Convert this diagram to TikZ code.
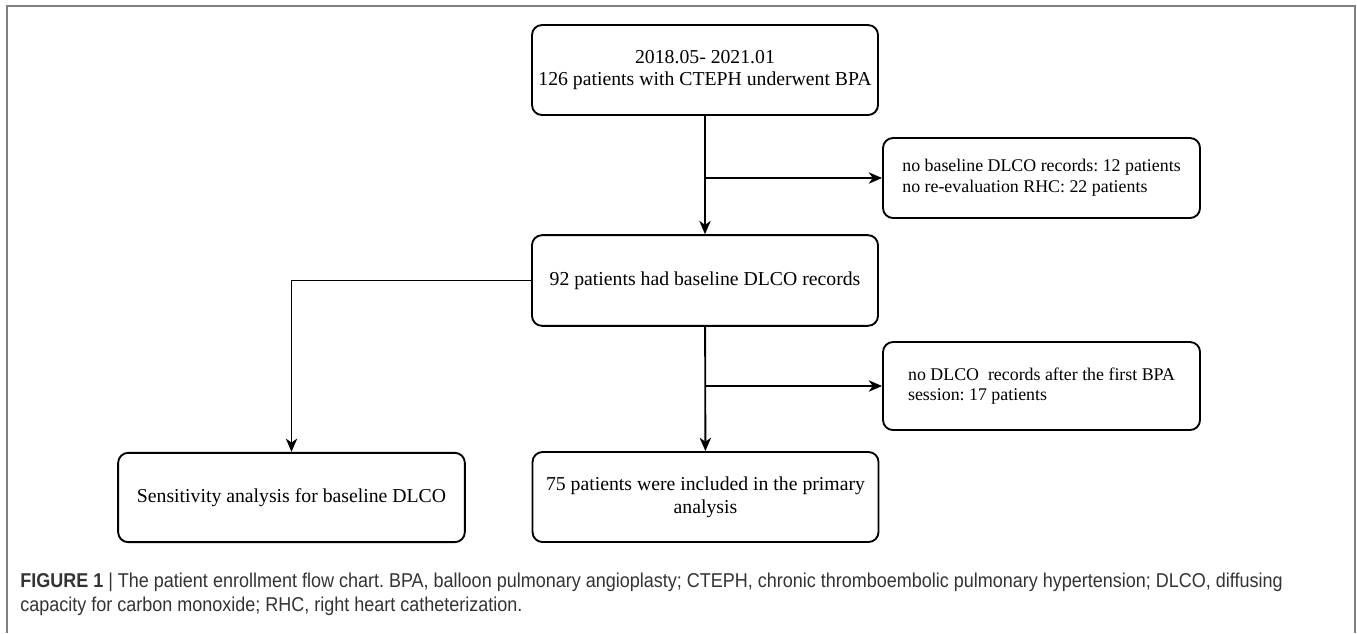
\documentclass[tikz,border=0pt]{standalone}
\usepackage{fontspec}
\setmainfont{Liberation Serif}
\newfontfamily\capfont[FakeStretch=0.9]{Liberation Sans}
\usepackage{xcolor}
\usetikzlibrary{arrows.meta,positioning}
\definecolor{capgray}{HTML}{333333}
\frenchspacing

\begin{document}
\begin{tikzpicture}[x=0.75pt,y=-0.75pt,
  n/.style={draw,rounded corners=7.5pt,line width=1.4pt,align=center,
            font=\fontsize{14.8}{17.2}\selectfont,minimum width=259.5pt,
            minimum height=67.5pt,inner sep=0pt},
  ex/.style={draw,rounded corners=7.5pt,line width=1.4pt,align=left,
            font=\fontsize{13.4}{15.5}\selectfont,minimum width=237.75pt,
            minimum height=62pt,inner sep=0pt},
  arr/.style={-{Stealth[length=10pt,width=8.5pt,inset=3pt]},line width=1.4pt}]
\useasboundingbox (0,0) rectangle (1357,633);
% outer frame, open at the bottom
\draw[gray,line width=1.4pt] (7,633) -- (7,6) -- (1355,6) -- (1355,633);
\node[n] (start) at (705,70) {2018.05- 2021.01\\126 patients with CTEPH underwent BPA};
\node[ex,minimum height=60pt] (excl1) at (1041.5,178) {no baseline DLCO records: 12 patients\\
  no re-evaluation RHC: 22 patients};
\node[n,minimum height=68pt] (base) at (705,280.5) {92 patients had baseline DLCO records};
\node[ex,minimum height=66pt] (excl2) at (1041.5,386) {no DLCO\ \ records after the first BPA\\
  session: 17 patients};
\node[n,minimum width=260pt,minimum height=67pt] (sens) at (291.5,497.5) {Sensitivity analysis for baseline DLCO};
\node[n] (prim) at (705.5,497) {75 patients were included in the primary\\analysis};
\draw[arr] (start) -- (base);
\draw[arr] (start.south |- excl1.west) -- (excl1.west);
\draw[arr] (base) -- (prim);
\draw[arr] (base.south |- excl2.west) -- (excl2.west);
\draw[arr] (base.west) -| (sens.north);
% caption
\node[anchor=north west,align=left,inner sep=0pt,text=capgray,
      font=\capfont\fontsize{15}{18}\selectfont] (cap) at (20,573)
  {\textbf{FIGURE 1} | The patient enrollment flow chart. BPA, balloon pulmonary angioplasty; CTEPH, chronic thromboembolic pulmonary hypertension; DLCO, diffusing\\
   capacity for carbon monoxide; RHC, right heart catheterization.};
\end{tikzpicture}
\end{document}
